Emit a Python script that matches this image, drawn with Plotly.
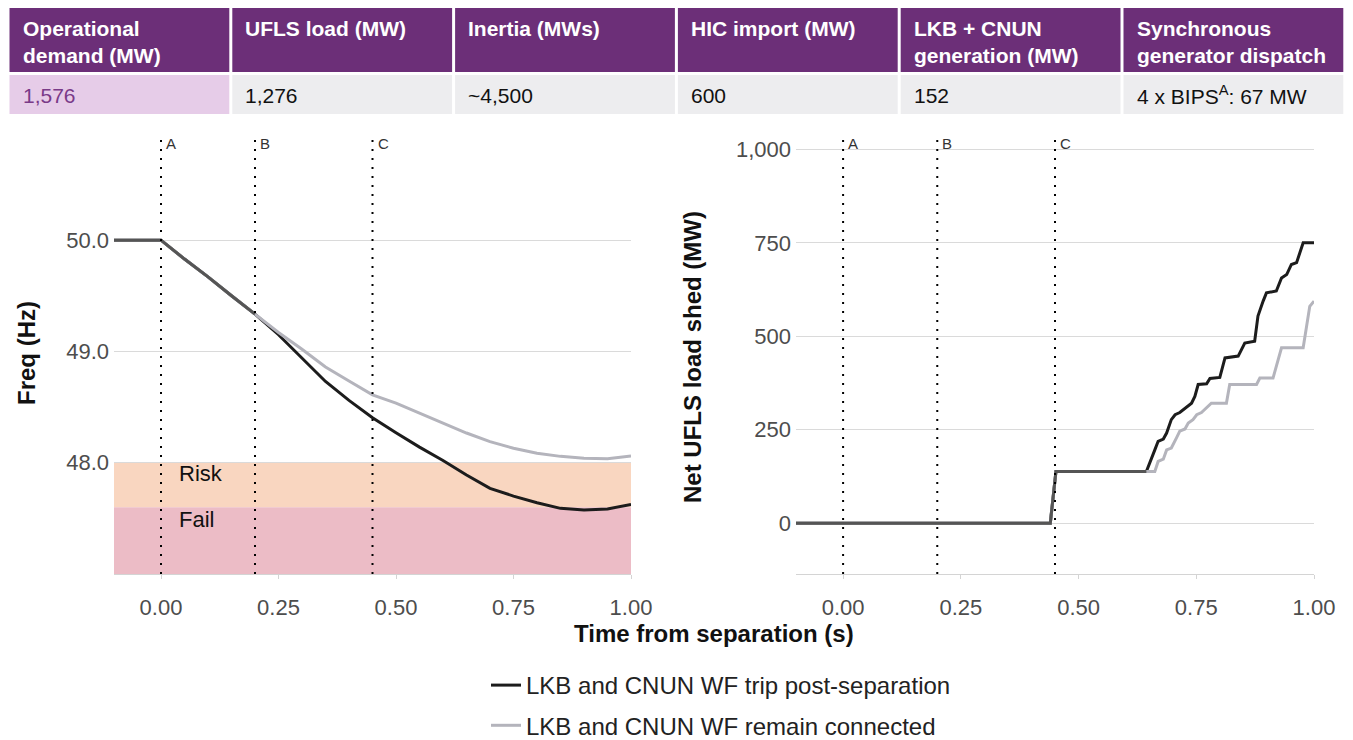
import plotly.graph_objects as go

W, H = 1353, 740
FONT = "Liberation Sans, Arial, sans-serif"

# ---- summary table -------------------------------------------------------
table_headers = [
    "Operational<br>demand (MW)",
    "UFLS load (MW)",
    "Inertia (MWs)",
    "HIC import (MW)",
    "LKB + CNUN<br>generation (MW)",
    "Synchronous<br>generator dispatch",
]
table_values = ["1,576", "1,276", "~4,500", "600", "152", "4 x BIPS<sup>A</sup>: 67 MW"]

# ---- frequency after separation (Hz) -------------------------------------
freq_time = [-0.10, 0.00, 0.05, 0.10, 0.15, 0.20, 0.25, 0.30, 0.35, 0.40, 0.45,
             0.50, 0.55, 0.60, 0.65, 0.70, 0.75, 0.80, 0.85, 0.90, 0.95, 1.00]
freq_trip = [50.00, 50.00, 49.83, 49.67, 49.50, 49.335, 49.15, 48.94, 48.73, 48.56, 48.405,
             48.27, 48.14, 48.02, 47.89, 47.77, 47.70, 47.64, 47.59, 47.575, 47.585, 47.625]
freq_connected = [50.00, 50.00, 49.83, 49.67, 49.50, 49.335, 49.17, 49.02, 48.86, 48.735, 48.61,
                  48.535, 48.447, 48.355, 48.267, 48.19, 48.13, 48.085, 48.057, 48.04, 48.035, 48.06]

# ---- net UFLS load shed (MW) ---------------------------------------------
shed_time_trip = [-0.10, 0.44, 0.452, 0.644, 0.662, 0.669, 0.680, 0.687, 0.697, 0.705,
                  0.715, 0.726, 0.740, 0.747, 0.754, 0.772, 0.779, 0.800, 0.811, 0.839,
                  0.853, 0.874, 0.881, 0.892, 0.899, 0.920, 0.931, 0.942, 0.952, 0.963,
                  0.970, 0.977, 1.000]
shed_trip = [0, 0, 138, 138, 196, 219, 225, 241, 277, 290,
             296, 308, 321, 339, 371, 373, 387, 390, 442, 447,
             482, 487, 554, 594, 616, 621, 656, 665, 692, 697,
             723, 750, 750]
shed_time_connected = [-0.10, 0.44, 0.452, 0.644, 0.662, 0.669, 0.680, 0.687, 0.697, 0.708,
                       0.715, 0.726, 0.733, 0.743, 0.751, 0.761, 0.782, 0.814, 0.821, 0.878,
                       0.885, 0.913, 0.931, 0.977, 0.991, 1.000]
shed_connected = [0, 0, 138, 138, 138, 165, 171, 196, 201, 228,
                  246, 252, 268, 277, 290, 296, 321, 321, 371, 371,
                  388, 388, 469, 469, 580, 594]

event_times = [0.0, 0.2, 0.45]
event_labels = ["A", "B", "C"]

risk_band = (47.6, 48.0)
fail_band = (47.0, 47.6)

names = ["LKB and CNUN WF trip post-separation", "LKB and CNUN WF remain connected"]
COL_TRIP = "#1c1c1c"
COL_CONN = "#b4b4bc"
COL_BOTH = "#555555"


def px_x(px):
    return px / W


def px_y(py):
    return 1 - py / H


def shared_prefix(xa, ya, xb, yb):
    xs, ys = [], []
    for p, q, r, s in zip(xa, ya, xb, yb):
        if p == r and q == s:
            xs.append(p)
            ys.append(q)
        else:
            break
    return xs, ys


fig = go.Figure()

# frequency panel
fig.add_trace(go.Scatter(x=freq_time, y=freq_trip, mode="lines", name=names[0],
                         line=dict(color=COL_TRIP, width=3), legendgroup="a",
                         xaxis="x", yaxis="y"))
fig.add_trace(go.Scatter(x=freq_time, y=freq_connected, mode="lines", name=names[1],
                         line=dict(color=COL_CONN, width=3), legendgroup="b",
                         xaxis="x", yaxis="y"))
bx, by = shared_prefix(freq_time, freq_trip, freq_time, freq_connected)
fig.add_trace(go.Scatter(x=bx, y=by, mode="lines", showlegend=False,
                         line=dict(color=COL_BOTH, width=3), xaxis="x", yaxis="y"))

# load shed panel
fig.add_trace(go.Scatter(x=shed_time_trip, y=shed_trip, mode="lines",
                         showlegend=False, line=dict(color=COL_TRIP, width=3),
                         legendgroup="a", xaxis="x2", yaxis="y2"))
fig.add_trace(go.Scatter(x=shed_time_connected, y=shed_connected, mode="lines",
                         showlegend=False, line=dict(color=COL_CONN, width=3),
                         legendgroup="b", xaxis="x2", yaxis="y2"))
bx, by = shared_prefix(shed_time_trip, shed_trip, shed_time_connected, shed_connected)
fig.add_trace(go.Scatter(x=bx, y=by, mode="lines", showlegend=False,
                         line=dict(color=COL_BOTH, width=3), xaxis="x2", yaxis="y2"))

shapes = []
annotations = []

# table cells
col_w = 222.8
x_start = 8
for i, (hdr, val) in enumerate(zip(table_headers, table_values)):
    x0 = x_start + i * col_w + 1.5
    x1 = x_start + (i + 1) * col_w - 1.5
    shapes.append(dict(type="rect", xref="paper", yref="paper", layer="below",
                       x0=px_x(x0), x1=px_x(x1), y0=px_y(72), y1=px_y(8),
                       fillcolor="#6c2f78", line=dict(width=0)))
    shapes.append(dict(type="rect", xref="paper", yref="paper", layer="below",
                       x0=px_x(x0), x1=px_x(x1), y0=px_y(114), y1=px_y(75),
                       fillcolor="#e6cce8" if i == 0 else "#ededef", line=dict(width=0)))
    annotations.append(dict(text="<b>" + hdr + "</b>", xref="paper", yref="paper",
                            x=px_x(x0 + 11), y=px_y(15), xanchor="left", yanchor="top",
                            align="left", showarrow=False,
                            font=dict(family=FONT, size=21, color="white")))
    annotations.append(dict(text=val, xref="paper", yref="paper",
                            x=px_x(x0 + 11), y=px_y(95), xanchor="left", yanchor="middle",
                            align="left", showarrow=False,
                            font=dict(family=FONT, size=21,
                                      color="#7a3a88" if i == 0 else "#111111")))

# risk / fail bands
shapes.append(dict(type="rect", xref="x domain", yref="y", layer="below",
                   x0=0, x1=1, y0=risk_band[0], y1=risk_band[1],
                   fillcolor="#f9d6c0", line=dict(width=0)))
shapes.append(dict(type="rect", xref="x domain", yref="y", layer="below",
                   x0=0, x1=1, y0=fail_band[0], y1=fail_band[1],
                   fillcolor="#ecbcc6", line=dict(width=0)))
annotations.append(dict(text="Risk", x=0.033, y=47.9, xref="x", yref="y",
                        xanchor="left", yanchor="middle", showarrow=False,
                        font=dict(family=FONT, size=22, color="#111111")))
annotations.append(dict(text="Fail", x=0.033, y=47.49, xref="x", yref="y",
                        xanchor="left", yanchor="middle", showarrow=False,
                        font=dict(family=FONT, size=22, color="#111111")))

# event markers on both panels
for xa, ya in (("x", "y"), ("x2", "y2")):
    for t, lab in zip(event_times, event_labels):
        shapes.append(dict(type="line", xref=xa, yref=ya + " domain", layer="above",
                           x0=t, x1=t, y0=0, y1=1,
                           line=dict(color="#000000", width=2, dash="2px,7px")))
        annotations.append(dict(text=lab, x=t, y=1, xref=xa, yref=ya + " domain",
                                xanchor="left", yanchor="middle", xshift=3, yshift=-3,
                                showarrow=False,
                                font=dict(family=FONT, size=15, color="#333333")))

# axis titles
annotations.append(dict(text="<b>Time from separation (s)</b>", xref="paper", yref="paper",
                        x=px_x(714), y=px_y(633), xanchor="center", yanchor="middle",
                        showarrow=False, font=dict(family=FONT, size=24, color="#111111")))
annotations.append(dict(text="<b>Freq (Hz)</b>", xref="paper", yref="paper",
                        x=px_x(26), y=px_y(353), xanchor="center", yanchor="middle",
                        textangle=-90, showarrow=False,
                        font=dict(family=FONT, size=24, color="#111111")))
annotations.append(dict(text="<b>Net UFLS load shed (MW)</b>", xref="paper", yref="paper",
                        x=px_x(692), y=px_y(357), xanchor="center", yanchor="middle",
                        textangle=-90, showarrow=False,
                        font=dict(family=FONT, size=24, color="#111111")))

x_common = dict(range=[-0.1, 1.0], tickvals=[0, 0.25, 0.5, 0.75, 1.0], tickformat=".2f",
                showgrid=False, zeroline=False, showline=True, linecolor="#d4d4d4",
                linewidth=1, ticks="outside", ticklen=4, tickcolor="#d4d4d4",
                ticklabelstandoff=10, automargin=False,
                tickfont=dict(family=FONT, size=22, color="#4d4d4d"))
y_common = dict(showgrid=True, gridcolor="#dadada", gridwidth=1, zeroline=False,
                showline=False, ticks="", ticklabelstandoff=4, automargin=False,
                tickfont=dict(family=FONT, size=22, color="#4d4d4d"))

fig.update_layout(
    width=W, height=H,
    margin=dict(l=0, r=0, t=0, b=0, autoexpand=False),
    paper_bgcolor="white", plot_bgcolor="white",
    font=dict(family=FONT),
    xaxis=dict(domain=[px_x(114), px_x(631)], anchor="y", **x_common),
    yaxis=dict(domain=[px_y(574), px_y(140)], anchor="x", range=[47.0, 50.9],
               tickvals=[48, 49, 50], tickformat=".1f", **y_common),
    xaxis2=dict(domain=[px_x(796), px_x(1314)], anchor="y2", **x_common),
    yaxis2=dict(domain=[px_y(574), px_y(140)], anchor="x2", range=[-136, 1025],
                tickvals=[0, 250, 500, 750, 1000], tickformat=",", **y_common),
    shapes=shapes,
    annotations=annotations,
    legend=dict(orientation="v", x=px_x(486), y=px_y(663), xanchor="left", yanchor="top",
                traceorder="grouped", tracegroupgap=6, bgcolor="rgba(0,0,0,0)",
                font=dict(family=FONT, size=24, color="#222222")),
    showlegend=True,
)

fig.write_html("out.html")
